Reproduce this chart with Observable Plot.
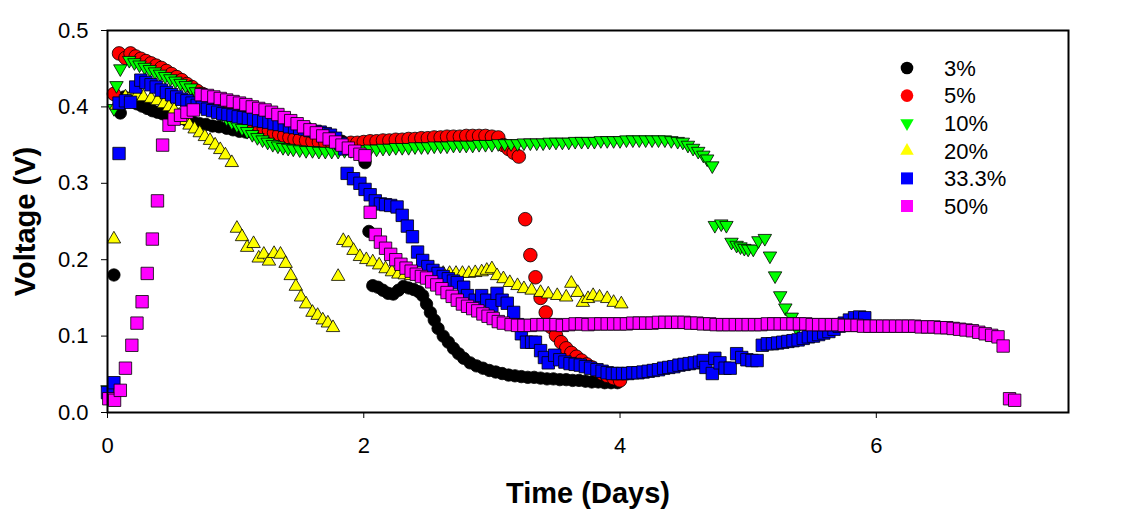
<!DOCTYPE html>
<html><head><meta charset="utf-8">
<script src="https://cdn.jsdelivr.net/npm/d3@7"></script>
<script src="https://cdn.jsdelivr.net/npm/@observablehq/plot@0.6"></script>
<style>
body{margin:0;background:#fff;}
#wrap{position:relative;width:1134px;height:515px;overflow:hidden;}
#wrap svg{display:block;}
#legend{position:absolute;left:0;top:0;pointer-events:none;}
</style></head><body>
<div id="wrap"><div id="chart"></div></div>
<script>
// ---------- data (Time in days, Voltage in V) ----------
const seriesNames = ["3%", "5%", "10%", "20%", "33.3%", "50%"];
const seriesColors = ["#000000", "#ff0000", "#00ff00", "#ffff00", "#0000ff", "#ff00ff"];
const xTicks = [0, 2, 4, 6];
const yTicks = [0, 0.1, 0.2, 0.3, 0.4, 0.5];

const pct3 = [[0.05,0.180],[0.10,0.392],[0.13,0.413],[0.18,0.408],[0.23,0.404],[0.27,0.401],[0.31,0.398],[0.35,0.395],[0.39,0.393],[0.43,0.391],[0.47,0.389],[0.52,0.387],[0.57,0.385],[0.62,0.382],[0.67,0.380],[0.72,0.378],[0.77,0.377],[0.82,0.375],[0.87,0.374],[0.93,0.372],[0.98,0.370],[1.03,0.368],[1.08,0.367],[1.13,0.367],[1.18,0.367],[1.23,0.367],[1.28,0.366],[1.33,0.366],[1.38,0.366],[1.43,0.366],[1.48,0.365],[1.53,0.365],[1.58,0.364],[1.63,0.363],[1.68,0.362],[1.73,0.360],[1.78,0.358],[1.83,0.355],[1.88,0.352],[1.93,0.345],[1.97,0.338],[2.01,0.327],[2.04,0.237],[2.07,0.166],[2.11,0.164],[2.15,0.160],[2.19,0.156],[2.23,0.155],[2.27,0.160],[2.31,0.165],[2.35,0.163],[2.39,0.161],[2.43,0.158],[2.46,0.153],[2.49,0.142],[2.52,0.131],[2.55,0.121],[2.58,0.110],[2.62,0.100],[2.66,0.092],[2.70,0.084],[2.74,0.077],[2.78,0.071],[2.83,0.065],[2.88,0.061],[2.93,0.058],[2.98,0.055],[3.03,0.053],[3.08,0.051],[3.13,0.049],[3.18,0.048],[3.23,0.047],[3.28,0.046],[3.33,0.046],[3.38,0.045],[3.43,0.044],[3.48,0.044],[3.53,0.043],[3.58,0.043],[3.63,0.042],[3.68,0.042],[3.73,0.041],[3.78,0.040],[3.83,0.040],[3.88,0.039],[3.93,0.039],[3.98,0.039]];

const pct5 = [[0.05,0.417],[0.09,0.470],[0.14,0.464],[0.18,0.470],[0.22,0.466],[0.26,0.463],[0.30,0.460],[0.34,0.457],[0.38,0.454],[0.42,0.451],[0.46,0.447],[0.50,0.443],[0.54,0.439],[0.58,0.435],[0.62,0.430],[0.66,0.426],[0.70,0.421],[0.74,0.417],[0.78,0.413],[0.82,0.409],[0.86,0.405],[0.90,0.401],[0.94,0.398],[0.98,0.394],[1.02,0.390],[1.06,0.386],[1.10,0.382],[1.14,0.378],[1.18,0.375],[1.22,0.372],[1.26,0.369],[1.30,0.366],[1.34,0.364],[1.38,0.362],[1.42,0.360],[1.46,0.358],[1.50,0.357],[1.55,0.356],[1.60,0.355],[1.65,0.354],[1.70,0.353],[1.75,0.353],[1.80,0.352],[1.85,0.352],[1.90,0.353],[1.95,0.353],[2.00,0.354],[2.05,0.355],[2.10,0.355],[2.15,0.356],[2.20,0.356],[2.25,0.357],[2.30,0.357],[2.35,0.358],[2.40,0.358],[2.45,0.359],[2.50,0.359],[2.55,0.360],[2.60,0.360],[2.65,0.361],[2.70,0.361],[2.75,0.361],[2.80,0.362],[2.85,0.362],[2.90,0.362],[2.95,0.362],[3.00,0.361],[3.05,0.360],[3.09,0.350],[3.13,0.345],[3.17,0.340],[3.21,0.335],[3.26,0.253],[3.30,0.206],[3.34,0.177],[3.38,0.150],[3.42,0.131],[3.46,0.112],[3.50,0.101],[3.54,0.092],[3.58,0.084],[3.62,0.078],[3.66,0.073],[3.70,0.068],[3.74,0.063],[3.78,0.059],[3.82,0.055],[3.86,0.051],[3.90,0.048],[3.95,0.045],[4.00,0.042]];

const pct10 = [[0.00,0.030],[0.05,0.398],[0.07,0.428],[0.10,0.450],[0.17,0.461],[0.21,0.458],[0.25,0.455],[0.29,0.452],[0.33,0.449],[0.37,0.446],[0.41,0.443],[0.45,0.440],[0.49,0.437],[0.53,0.434],[0.57,0.431],[0.61,0.428],[0.65,0.425],[0.69,0.420],[0.73,0.414],[0.77,0.408],[0.81,0.402],[0.85,0.396],[0.89,0.390],[0.93,0.385],[0.97,0.380],[1.01,0.376],[1.05,0.372],[1.09,0.368],[1.13,0.364],[1.17,0.360],[1.21,0.357],[1.25,0.354],[1.29,0.351],[1.33,0.349],[1.37,0.347],[1.41,0.346],[1.45,0.345],[1.50,0.344],[1.55,0.343],[1.60,0.343],[1.65,0.342],[1.70,0.342],[1.75,0.342],[1.80,0.342],[1.85,0.343],[1.90,0.343],[1.95,0.344],[2.00,0.344],[2.05,0.345],[2.10,0.345],[2.15,0.346],[2.20,0.346],[2.25,0.347],[2.30,0.347],[2.35,0.347],[2.40,0.348],[2.45,0.348],[2.50,0.348],[2.55,0.349],[2.60,0.349],[2.65,0.349],[2.70,0.350],[2.75,0.350],[2.80,0.350],[2.85,0.350],[2.90,0.351],[2.95,0.351],[3.00,0.351],[3.05,0.352],[3.10,0.352],[3.15,0.352],[3.20,0.352],[3.25,0.353],[3.30,0.353],[3.35,0.353],[3.40,0.353],[3.45,0.354],[3.50,0.354],[3.55,0.354],[3.60,0.354],[3.65,0.355],[3.70,0.355],[3.75,0.355],[3.80,0.355],[3.85,0.356],[3.90,0.356],[3.95,0.356],[4.00,0.356],[4.05,0.357],[4.10,0.357],[4.15,0.357],[4.20,0.357],[4.25,0.357],[4.30,0.357],[4.35,0.357],[4.40,0.356],[4.45,0.355],[4.49,0.354],[4.53,0.350],[4.57,0.346],[4.61,0.342],[4.65,0.337],[4.68,0.332],[4.72,0.323],[4.74,0.245],[4.79,0.247],[4.83,0.245],[4.87,0.223],[4.91,0.219],[4.94,0.217],[4.97,0.215],[5.00,0.214],[5.04,0.214],[5.08,0.225],[5.13,0.228],[5.17,0.205],[5.21,0.179],[5.25,0.153],[5.29,0.137],[5.34,0.125],[5.38,0.110]];

const pct20 = [[0.05,0.227],[0.07,0.402],[0.14,0.413],[0.19,0.416],[0.23,0.415],[0.28,0.413],[0.34,0.411],[0.39,0.408],[0.44,0.404],[0.48,0.400],[0.52,0.396],[0.56,0.389],[0.60,0.382],[0.64,0.376],[0.68,0.371],[0.72,0.366],[0.76,0.361],[0.80,0.356],[0.84,0.350],[0.88,0.344],[0.92,0.337],[0.97,0.327],[1.01,0.241],[1.05,0.230],[1.09,0.216],[1.14,0.221],[1.18,0.202],[1.22,0.207],[1.26,0.198],[1.30,0.208],[1.35,0.207],[1.39,0.195],[1.43,0.179],[1.47,0.165],[1.51,0.151],[1.55,0.142],[1.60,0.131],[1.64,0.127],[1.68,0.121],[1.72,0.117],[1.76,0.111],[1.80,0.178],[1.84,0.225],[1.88,0.222],[1.92,0.212],[1.97,0.204],[2.02,0.200],[2.07,0.197],[2.12,0.193],[2.17,0.188],[2.22,0.184],[2.27,0.181],[2.32,0.180],[2.37,0.179],[2.42,0.179],[2.47,0.179],[2.52,0.180],[2.57,0.181],[2.62,0.182],[2.67,0.182],[2.72,0.182],[2.77,0.182],[2.82,0.182],[2.87,0.183],[2.92,0.184],[2.96,0.186],[3.00,0.188],[3.04,0.179],[3.09,0.175],[3.14,0.170],[3.20,0.166],[3.25,0.162],[3.31,0.160],[3.38,0.157],[3.44,0.155],[3.51,0.153],[3.58,0.151],[3.62,0.169],[3.67,0.157],[3.71,0.144],[3.75,0.149],[3.79,0.153],[3.84,0.151],[3.90,0.149],[3.95,0.144],[4.01,0.142]];

const pct333 = [[0.00,0.026],[0.05,0.039],[0.09,0.339],[0.09,0.405],[0.14,0.408],[0.18,0.406],[0.22,0.426],[0.26,0.435],[0.30,0.432],[0.34,0.429],[0.38,0.426],[0.42,0.422],[0.46,0.419],[0.50,0.416],[0.54,0.413],[0.58,0.410],[0.62,0.408],[0.66,0.405],[0.70,0.402],[0.74,0.400],[0.78,0.397],[0.82,0.395],[0.86,0.393],[0.90,0.391],[0.94,0.390],[0.98,0.389],[1.02,0.387],[1.06,0.386],[1.10,0.385],[1.14,0.384],[1.18,0.382],[1.22,0.381],[1.26,0.380],[1.30,0.378],[1.34,0.377],[1.38,0.376],[1.42,0.374],[1.46,0.373],[1.50,0.372],[1.54,0.371],[1.58,0.369],[1.62,0.368],[1.66,0.367],[1.70,0.365],[1.74,0.363],[1.78,0.359],[1.82,0.352],[1.85,0.345],[1.87,0.313],[1.92,0.306],[1.97,0.300],[2.01,0.292],[2.05,0.285],[2.09,0.277],[2.13,0.273],[2.17,0.272],[2.21,0.271],[2.26,0.269],[2.30,0.258],[2.34,0.244],[2.38,0.230],[2.42,0.210],[2.46,0.199],[2.50,0.191],[2.54,0.186],[2.58,0.182],[2.62,0.178],[2.66,0.175],[2.70,0.172],[2.73,0.170],[2.78,0.164],[2.81,0.153],[2.87,0.147],[2.92,0.153],[2.96,0.147],[3.00,0.140],[3.04,0.156],[3.08,0.147],[3.12,0.143],[3.17,0.131],[3.20,0.115],[3.23,0.103],[3.27,0.092],[3.31,0.092],[3.34,0.092],[3.38,0.081],[3.41,0.072],[3.44,0.065],[3.49,0.075],[3.53,0.069],[3.57,0.066],[3.61,0.064],[3.65,0.063],[3.69,0.062],[3.73,0.060],[3.77,0.058],[3.82,0.056],[3.86,0.054],[3.90,0.052],[3.94,0.051],[3.98,0.051],[4.02,0.051],[4.06,0.051],[4.10,0.052],[4.14,0.052],[4.18,0.053],[4.22,0.054],[4.26,0.055],[4.30,0.056],[4.34,0.058],[4.38,0.059],[4.42,0.060],[4.46,0.062],[4.50,0.063],[4.54,0.064],[4.58,0.065],[4.62,0.066],[4.65,0.068],[4.67,0.059],[4.72,0.051],[4.74,0.071],[4.78,0.065],[4.82,0.058],[4.86,0.058],[4.91,0.077],[4.95,0.072],[4.99,0.069],[5.03,0.068],[5.07,0.068],[5.11,0.088],[5.15,0.090],[5.19,0.090],[5.23,0.091],[5.27,0.092],[5.31,0.093],[5.35,0.094],[5.39,0.095],[5.43,0.097],[5.47,0.099],[5.51,0.100],[5.55,0.102],[5.59,0.104],[5.63,0.106],[5.67,0.109],[5.71,0.113],[5.75,0.117],[5.79,0.121],[5.83,0.124],[5.87,0.125],[5.91,0.124]];

const pct50 = [[0.01,0.018],[0.055,0.016],[0.10,0.029],[0.14,0.058],[0.19,0.088],[0.23,0.117],[0.27,0.145],[0.31,0.182],[0.35,0.227],[0.39,0.277],[0.43,0.350],[0.48,0.376],[0.52,0.384],[0.57,0.389],[0.62,0.393],[0.67,0.396],[0.73,0.416],[0.78,0.415],[0.83,0.413],[0.88,0.411],[0.93,0.409],[0.98,0.407],[1.03,0.405],[1.08,0.403],[1.13,0.400],[1.18,0.398],[1.23,0.396],[1.28,0.393],[1.33,0.390],[1.38,0.386],[1.43,0.382],[1.48,0.378],[1.53,0.374],[1.58,0.370],[1.63,0.366],[1.68,0.362],[1.73,0.358],[1.78,0.354],[1.83,0.350],[1.88,0.346],[1.93,0.342],[1.97,0.338],[2.01,0.336],[2.05,0.262],[2.09,0.233],[2.13,0.223],[2.17,0.215],[2.21,0.207],[2.25,0.200],[2.29,0.194],[2.33,0.189],[2.37,0.185],[2.41,0.181],[2.45,0.178],[2.49,0.176],[2.53,0.171],[2.57,0.167],[2.61,0.162],[2.65,0.157],[2.69,0.152],[2.73,0.147],[2.77,0.142],[2.81,0.139],[2.85,0.136],[2.89,0.133],[2.93,0.129],[2.97,0.126],[3.01,0.123],[3.05,0.119],[3.09,0.117],[3.15,0.115],[3.20,0.114],[3.25,0.114],[3.30,0.114],[3.35,0.115],[3.40,0.115],[3.45,0.115],[3.50,0.115],[3.55,0.114],[3.60,0.115],[3.65,0.116],[3.70,0.116],[3.75,0.115],[3.80,0.116],[3.85,0.116],[3.90,0.116],[3.95,0.116],[4.00,0.116],[4.05,0.116],[4.10,0.117],[4.15,0.117],[4.20,0.117],[4.25,0.117],[4.30,0.118],[4.35,0.118],[4.40,0.118],[4.45,0.118],[4.50,0.118],[4.55,0.117],[4.60,0.117],[4.65,0.116],[4.70,0.116],[4.75,0.115],[4.80,0.115],[4.85,0.115],[4.90,0.115],[4.95,0.115],[5.00,0.115],[5.05,0.115],[5.10,0.115],[5.15,0.116],[5.20,0.116],[5.25,0.116],[5.30,0.116],[5.35,0.116],[5.40,0.116],[5.45,0.116],[5.50,0.115],[5.55,0.115],[5.60,0.115],[5.65,0.115],[5.70,0.115],[5.75,0.114],[5.80,0.114],[5.85,0.114],[5.90,0.113],[5.95,0.113],[6.00,0.113],[6.05,0.113],[6.10,0.113],[6.15,0.113],[6.20,0.113],[6.25,0.113],[6.30,0.113],[6.35,0.112],[6.40,0.112],[6.45,0.112],[6.50,0.111],[6.55,0.111],[6.60,0.110],[6.65,0.109],[6.70,0.108],[6.75,0.107],[6.80,0.105],[6.85,0.103],[6.90,0.101],[6.95,0.099],[6.99,0.087],[7.04,0.018],[7.08,0.016]];

const seriesData = [pct3, pct5, pct10, pct20, pct333, pct50];

// ---------- drawing ----------
const FONT = "Arial, 'Liberation Sans', sans-serif";
const downTriangle = {
  draw(ctx, size) {
    const y = Math.sqrt(size / (Math.sqrt(3) * 3));
    const s = Math.sqrt(3) * y;
    ctx.moveTo(0, 2 * y); ctx.lineTo(s, -y); ctx.lineTo(-s, -y); ctx.closePath();
  }
};
const markerSymbols = ["circle", "circle", downTriangle, "triangle", "square", "square"];
const markerRadii = [6.2, 6.8, 5.0, 5.0, 7.0, 7.0];

const rows = seriesNames.map((name, i) => seriesData[i].map(([t, v]) => ({series: name, t, v})));

const dotMarks = rows.map((data, i) => Plot.dot(data, {
  x: "t", y: "v",
  symbol: () => markerSymbols[i],
  r: markerRadii[i],
  fill: seriesColors[i],
  stroke: "#000",
  strokeWidth: 0.8
}));

const chart = Plot.plot({
  width: 1134, height: 515,
  marginLeft: 107, marginRight: 66, marginTop: 30, marginBottom: 103,
  style: {fontFamily: FONT, fontSize: "22px", color: "#000", background: "#fff"},
  x: {domain: [0, 7.5], ticks: xTicks, tickFormat: d => String(d), label: null, tickSize: 6, tickPadding: 19},
  y: {domain: [0, 0.5], ticks: yTicks, tickFormat: d => d.toFixed(1), label: null, tickSize: 6, tickPadding: 13},
  marks: [
    ...dotMarks,
    Plot.frame({stroke: "#000", strokeWidth: 2}),
    Plot.text(["Voltage (V)"], {text: d => d, frameAnchor: "left", textAnchor: "middle", lineAnchor: "middle", dx: -82, rotate: -90, fontWeight: "bold", fontSize: 29, fill: "#000"}),
    Plot.text(["Time (Days)"], {text: d => d, frameAnchor: "bottom", textAnchor: "middle", lineAnchor: "middle", dy: 81, fontWeight: "bold", fontSize: 29, fill: "#000"})
  ]
});
document.getElementById("chart").appendChild(chart);

// ---------- legend (overlay inside the frame, top-right) ----------
const legendSymbols = [d3.symbolCircle, d3.symbolCircle, downTriangle, d3.symbolTriangle, d3.symbolSquare, d3.symbolSquare];
const legendSizes = [Math.PI * 6.3 * 6.3, Math.PI * 6.3 * 6.3, Math.PI * 5 * 5, Math.PI * 5 * 5, 144, 144];
const lg = d3.select("#wrap").append("svg")
  .attr("id", "legend").attr("width", 1134).attr("height", 515);
const item = lg.selectAll("g").data(seriesNames).join("g")
  .attr("transform", (d, i) => `translate(907,${68 + i * 27.6})`);
item.append("path")
  .attr("d", (d, i) => d3.symbol(legendSymbols[i], legendSizes[i])())
  .attr("fill", (d, i) => seriesColors[i]);
item.append("text")
  .attr("x", 37).attr("dy", "0.35em")
  .attr("font-family", FONT).attr("font-size", 22).attr("fill", "#000")
  .text(d => d);
</script>
</body></html>
